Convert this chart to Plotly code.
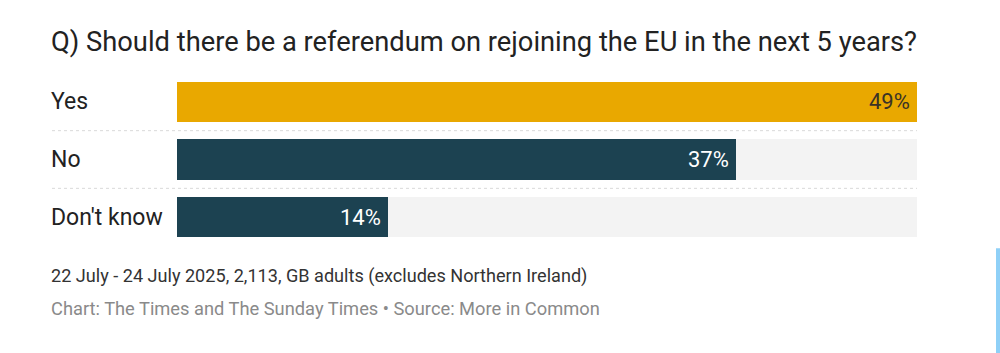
import plotly.graph_objects as go

categories = ["Yes", "No", "Don't know"]
values = [49, 37, 14]
value_labels = ["49%", "37%", "14%"]
bar_colors = ["#e9a800", "#1c4251", "#1c4251"]
label_colors = ["#3a3326", "#ffffff", "#ffffff"]
axis_max = 49

title = "Q) Should there be a referendum on rejoining the EU in the next 5 years?"
note = "22 July - 24 July 2025, 2,113, GB adults (excludes Northern Ireland)"
source = "Chart: The Times and The Sunday Times \u2022 Source: More in Common"

W, H = 1000, 353
L, R = 177, 917
T, B = 73.25, 245.75
pw, ph = R - L, B - T

def px_x(p):
    return (p - L) / pw

def px_y(p):
    return (B - p) / ph

FONT = "Roboto, 'Open Sans', sans-serif"
ypos = list(range(len(categories)))
TX = 49  # left text edge compensation for annotation padding

fig = go.Figure()
fig.add_trace(go.Bar(
    x=[axis_max] * len(categories), y=ypos, orientation="h",
    marker=dict(color="#f3f3f3", line=dict(width=0)), width=0.696,
    hoverinfo="skip", showlegend=False))
fig.add_trace(go.Bar(
    x=values, y=ypos, orientation="h",
    marker=dict(color=bar_colors, line=dict(width=0)), width=0.696,
    showlegend=False))

annotations = []
for i, (c, v, t, col) in enumerate(zip(categories, values, value_labels, label_colors)):
    annotations.append(dict(x=px_x(TX), xref="paper", y=i, yref="y", text=c,
                            xanchor="left", yanchor="middle", showarrow=False,
                            font=dict(family=FONT, size=23, color="#222222")))
    annotations.append(dict(x=v, xref="x", y=i, yref="y", text=t,
                            xanchor="right", yanchor="middle", xshift=-5, showarrow=False,
                            font=dict(family=FONT, size=22, color=col)))

annotations.append(dict(x=px_x(TX), xref="paper", y=px_y(42.5), yref="paper", text=title,
                        xanchor="left", yanchor="middle", showarrow=False,
                        font=dict(family=FONT, size=27.3, color="#222222")))
annotations.append(dict(x=px_x(TX), xref="paper", y=px_y(276), yref="paper", text=note,
                        xanchor="left", yanchor="middle", showarrow=False,
                        font=dict(family=FONT, size=18.1, color="#333333")))
annotations.append(dict(x=px_x(TX), xref="paper", y=px_y(308), yref="paper", text=source,
                        xanchor="left", yanchor="middle", showarrow=False,
                        font=dict(family=FONT, size=18.3, color="#8a8a8a")))

shapes = []
for k in range(len(categories) - 1):
    shapes.append(dict(type="line", xref="paper", yref="y",
                       x0=px_x(52), x1=1, y0=k + 0.5, y1=k + 0.5,
                       line=dict(color="#d9d9d9", width=1, dash="dot")))
# screenshot scrollbar artifact at right edge
shapes.append(dict(type="rect", xref="paper", yref="paper",
                   x0=px_x(996), x1=px_x(1000), y0=px_y(353), y1=px_y(248),
                   fillcolor="#8fd0f7", line=dict(width=0), layer="above"))

fig.update_layout(
    width=W, height=H,
    margin=dict(l=L, r=W - R, t=T, b=H - B, pad=0),
    paper_bgcolor="white", plot_bgcolor="white",
    barmode="overlay", bargap=0,
    xaxis=dict(range=[0, axis_max], visible=False, fixedrange=True),
    yaxis=dict(range=[len(categories) - 0.5, -0.5], visible=False, fixedrange=True),
    annotations=annotations, shapes=shapes,
    font=dict(family=FONT),
)

fig.write_html("out.html", config={"displayModeBar": False})
